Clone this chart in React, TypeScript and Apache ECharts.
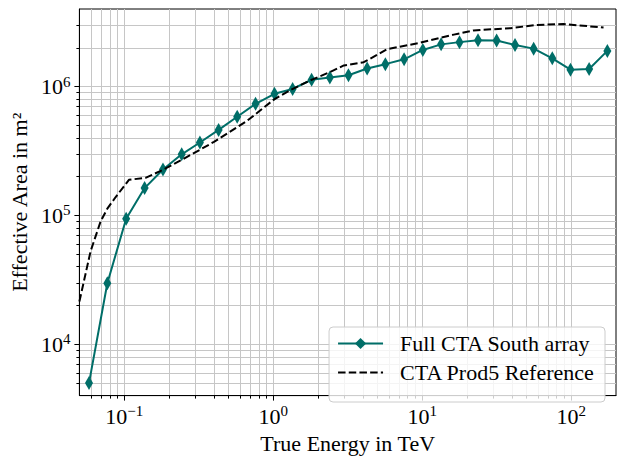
import React, { useEffect, useRef } from 'react';
import * as echarts from 'echarts';

// Full CTA South array (energy in TeV, effective area in m^2)
const energyTeV = [0.058, 0.077, 0.103, 0.137, 0.182, 0.243, 0.322, 0.43, 0.573, 0.761, 1.02, 1.35, 1.81, 2.4, 3.2, 4.27, 5.66, 7.56, 10.1, 13.4, 17.8, 23.7, 31.6, 42.0, 56.0, 74.7, 99, 132, 175];
const effAreaSouth = [5000, 29800, 94300, 163000, 227000, 298000, 368000, 461000, 583000, 735000, 879000, 959000, 1130000, 1176000, 1224000, 1383000, 1493000, 1628000, 1924000, 2126000, 2213000, 2290000, 2280000, 2100000, 1970000, 1656000, 1352000, 1368000, 1892000];

// CTA Prod5 reference
const refEnergyTeV = [0.05, 0.0595, 0.0694, 0.077, 0.0876, 0.1075, 0.139, 0.181, 0.239, 0.40, 0.669, 1.01, 1.31, 1.78, 2.42, 2.98, 4.05, 5.82, 9.72, 16.3, 22.1, 39.1, 59, 88.5, 165];
const refArea = [21500, 53000, 89800, 113000, 139000, 189000, 196000, 225000, 267000, 372000, 543000, 793000, 942000, 1120000, 1300000, 1460000, 1545000, 1950000, 2190000, 2530000, 2730000, 2840000, 3010000, 3060000, 2870000];

// Axis ranges and ticks
const xRange = [0.05, 200];
const yRange = [4000, 4e6];
const xMajor = [0.1, 1, 10, 100];
const xMinor = [0.06, 0.07, 0.08, 0.09, 0.2, 0.3, 0.4, 0.5, 0.6, 0.7, 0.8, 0.9, 2, 3, 4, 5, 6, 7, 8, 9, 20, 30, 40, 50, 60, 70, 80, 90];
const yMajor = [1e4, 1e5, 1e6];
const yMinor = [5e3, 6e3, 7e3, 8e3, 9e3, 2e4, 3e4, 4e4, 5e4, 6e4, 7e4, 8e4, 9e4, 2e5, 3e5, 4e5, 5e5, 6e5, 7e5, 8e5, 9e5, 2e6, 3e6];

const seriesNames = ['Full CTA South array', 'CTA Prod5 Reference'];
const FONT = 'Liberation Serif';
const FS = 22;

const lg = (v: number) => Math.log10(v);

const rich = {
  b: { fontFamily: FONT, fontSize: FS, color: '#000', lineHeight: 25 },
  s: { fontFamily: FONT, fontSize: 15, color: '#000', verticalAlign: 'top', lineHeight: 14 },
};

const powLabel = (v: number) => {
  const e = Math.round(v);
  const es = e < 0 ? '\u2212' + Math.abs(e) : String(e);
  return '{b|10}{s|' + es + '}';
};

export default function App() {
  const ref = useRef<HTMLDivElement>(null);
  useEffect(() => {
    if (!ref.current) return;
    const chart = echarts.init(ref.current, undefined, { renderer: 'svg' });
    const xMin = lg(xRange[0]);
    const xMax = lg(xRange[1]);
    const yMin = lg(yRange[0]);
    const yMax = lg(yRange[1]);
    const xAll = [...xMajor, ...xMinor].map(lg);
    const yAll = [...yMajor, ...yMinor].map(lg);
    const gridLine = { show: true, lineStyle: { color: '#c6c6c6', width: 1 } };
    const option: any = {
      animation: false,
      backgroundColor: '#fff',
      grid: {
        left: 78, right: 9, top: 9, bottom: 54,
        show: true, borderColor: '#000', borderWidth: 1, backgroundColor: 'transparent',
      },
      xAxis: [
        {
          type: 'value', min: xMin, max: xMax, position: 'bottom',
          name: 'True Energy in TeV', nameLocation: 'middle', nameGap: 30,
          nameTextStyle: { fontFamily: FONT, fontSize: FS, color: '#000' },
          axisLine: { show: true, onZero: false, lineStyle: { color: '#000', width: 1 } },
          axisTick: { show: true, customValues: xAll, length: 3, lineStyle: { color: '#000', width: 1 } },
          axisLabel: { show: true, customValues: xMajor.map(lg), formatter: powLabel, rich, margin: 8 },
          splitLine: gridLine,
        },
        {
          type: 'value', min: xMin, max: xMax, position: 'bottom',
          axisLine: { show: false, onZero: false },
          axisTick: { show: true, customValues: xMajor.map(lg), length: 5, lineStyle: { color: '#000', width: 1 } },
          axisLabel: { show: false },
          splitLine: { show: false },
        },
      ],
      yAxis: [
        {
          type: 'value', min: yMin, max: yMax, position: 'left',
          name: 'Effective Area in m\u00B2', nameLocation: 'middle', nameGap: 39,
          nameTextStyle: { fontFamily: FONT, fontSize: FS, color: '#000' },
          axisLine: { show: true, onZero: false, lineStyle: { color: '#000', width: 1 } },
          axisTick: { show: true, customValues: yAll, length: 3, lineStyle: { color: '#000', width: 1 } },
          axisLabel: { show: true, customValues: yMajor.map(lg), formatter: powLabel, rich, margin: 9 },
          splitLine: gridLine,
        },
        {
          type: 'value', min: yMin, max: yMax, position: 'left',
          axisLine: { show: false, onZero: false },
          axisTick: { show: true, customValues: yMajor.map(lg), length: 5, lineStyle: { color: '#000', width: 1 } },
          axisLabel: { show: false },
          splitLine: { show: false },
        },
      ],
      legend: {
        orient: 'vertical', right: 20, bottom: 57,
        padding: [4, 10, 17, 8], itemGap: 4, itemWidth: 45, itemHeight: 14,
        backgroundColor: 'rgba(255,255,255,0.8)', borderColor: '#cccccc', borderWidth: 1, borderRadius: 4,
        textStyle: { fontFamily: FONT, fontSize: FS, color: '#000', padding: [0, 0, 0, 12], lineHeight: 25 },
        data: [
          { name: seriesNames[0] },
          { name: seriesNames[1], itemStyle: { opacity: 0 } },
        ],
      },
      series: [
        {
          name: seriesNames[0], type: 'line', xAxisIndex: 0, yAxisIndex: 0,
          data: energyTeV.map((e, i) => [lg(e), lg(effAreaSouth[i])]),
          symbol: 'diamond', symbolSize: [8, 14],
          lineStyle: { color: '#006e68', width: 2 },
          itemStyle: { color: '#006e68' },
          z: 3,
        },
        {
          name: seriesNames[1], type: 'line', xAxisIndex: 0, yAxisIndex: 0,
          data: refEnergyTeV.map((e, i) => [lg(e), lg(refArea[i])]),
          symbol: 'none',
          lineStyle: { color: '#000', width: 2, type: [7.5, 3.2] },
          itemStyle: { color: '#000' },
          z: 4,
        },
      ],
    };
    chart.setOption(option);
    return () => chart.dispose();
  }, []);
  return <div ref={ref} style={{ position: 'fixed', left: 0, top: 0, width: 625, height: 459 }} />;
}
